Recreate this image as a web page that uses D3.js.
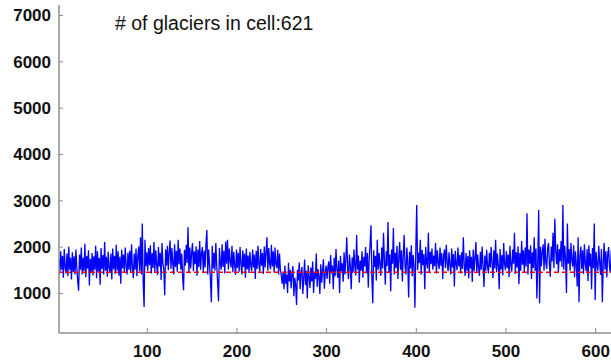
<!DOCTYPE html>
<html><head><meta charset="utf-8">
<script src="https://cdn.jsdelivr.net/npm/d3@7"></script>
<style>body{margin:0;background:#fff}svg{display:block}</style>
</head><body>
<svg id="c" width="611" height="361"></svg>
<script>
const titleText = "# of glaciers in cell:621";
const yTicks = [1000,2000,3000,4000,5000,6000,7000];
const xTicks = [100,200,300,400,500,600];
const threshold = 1450;
const values = [
1180,1720,1420,1900,1500,1800,1330,1950,1560,1420,1850,1360,2000,1500,1760,1290,1880,1450,1790,1400,
1940,1560,1250,1050,1830,1500,1980,1400,1760,1470,2060,1340,1800,1530,1920,1160,1740,1440,1860,1380,
1790,1500,2020,1320,1900,1460,1760,1180,1970,1520,1820,1400,2100,1480,1780,1350,1890,1550,1430,1850,
1290,1960,1510,1800,1410,2040,1480,1900,1370,1780,1200,1930,1530,1830,1450,1980,1580,1400,1870,1500,
1910,1430,2050,1550,1320,1850,1500,1960,1360,1790,2000,1470,2200,1400,2500,1230,700,2150,1580,1880,
1480,1970,1600,2030,1420,1860,1540,2100,1460,1920,1610,1390,1990,1570,1870,1280,2080,1640,1510,950,
1940,1590,2020,1490,1880,2130,1520,1970,1640,1400,2050,1560,1910,1460,2150,1620,1960,1500,1850,1330,
1060,1930,1590,2040,1650,2420,1430,1980,1530,1870,2080,1470,1900,1620,2010,1370,1940,1560,2120,1500,
1860,1990,1450,1910,1550,2050,2360,1400,1940,1610,1280,800,2020,1530,1870,1480,2080,1600,1220,820,
1970,1660,1500,2050,1560,1910,1420,2110,1630,2150,1500,1960,1680,1550,2020,1450,1890,1600,1390,1940,
1540,1870,1460,1990,1620,1400,1920,1560,1850,1330,1960,1510,1810,1430,1890,1590,1470,1940,1550,1830,
1300,1910,1520,2020,1610,1460,1950,1590,1860,1410,2000,1550,1890,2200,1480,1970,1630,1510,2040,1570,
1900,1440,1980,1610,1540,1930,1400,1850,1500,1380,1200,1450,1080,1590,1200,1400,1000,1650,1250,1500,
1100,1420,1580,930,1330,1180,740,1500,1270,1660,1080,1430,1560,980,1320,1720,1170,1480,880,1600,
1350,1110,1550,1250,1680,1000,1440,1300,1850,1130,1510,1360,980,1620,1220,1480,1730,1090,1420,1590,
1300,1560,1680,1200,1820,1420,1590,1080,1760,1360,1950,1500,1330,1700,1000,1800,1470,1640,1240,1880,
1400,1740,2200,1520,1300,1830,1600,1080,1770,1440,1940,1560,1380,2250,1500,1810,1220,1700,1480,1900,
1330,1780,1570,1990,1420,1860,1120,1730,2050,2460,1340,780,1920,1560,1800,1270,2150,1500,1860,1620,
1370,1980,1530,2300,1680,1180,1900,1580,2530,1450,1830,1040,1940,1630,2400,1400,1870,1540,2020,1300,
1750,2100,1500,1920,1250,1800,2250,1570,1400,1980,1660,900,1890,1530,2030,1360,1820,1600,680,1930,
2900,1490,1870,1650,2150,1400,1930,1600,1840,1080,1990,1660,1530,2300,1440,1890,1620,1960,1500,1810,
1580,2080,1420,1920,1660,1520,1980,1590,1860,1300,1800,1940,1540,2040,1640,1470,1880,1610,1400,1960,
1550,1840,1140,1910,1630,1490,1980,1570,1820,1420,1880,1520,2200,1600,1370,1860,1480,1800,1320,1920,
1530,1780,1240,1940,1470,1760,2100,1430,1830,1550,1370,1890,1500,2000,1590,1130,1810,1480,1930,1570,
1420,1870,1550,1990,1640,1320,1920,1530,2150,1450,1850,1600,1080,1950,1500,1820,1380,2080,1620,1490,
1900,1540,1830,1340,2020,1600,1460,1940,1630,2300,1410,1880,1550,2010,1190,1860,1480,2120,1610,1920,
1450,1980,1570,2720,1400,1940,1630,2030,1300,1880,1540,2200,1480,1960,880,1650,2790,780,2000,1580,
1890,2050,1480,2170,1650,1520,1970,2080,1610,1350,2000,1680,2300,1540,2600,1920,1620,2050,1430,1950,
1680,2120,1560,2900,1500,2020,1740,1000,2500,1630,1950,1480,2080,1700,1570,2030,1340,1900,1620,1140,
2200,800,1820,2000,1520,1920,1410,2050,1630,1470,1950,1260,2030,1570,1850,1080,1970,1540,2500,850,
1890,1610,1480,2020,1660,1390,1950,800,1640,2080,1500,1900,1340,1830,1990,1560,1430,1920,1620,1540,
1800
];

const svg = d3.select("#c");
const x = d3.scaleLinear().domain([1, 621]).range([58, 614]);
const y = d3.scaleLinear().domain([136, 7216]).range([333, 5]);

svg.append("defs").append("clipPath").attr("id","clip")
  .append("rect").attr("x",59).attr("y",5).attr("width",560).attr("height",328);

const g = svg.append("g").attr("clip-path","url(#clip)");
const line = d3.line().x((d,i)=>x(i+1)).y(d=>y(d));
g.append("path").datum(values).attr("d", line)
  .attr("fill","none").attr("stroke","#0000ff").attr("stroke-width",1.3);
g.append("line").attr("x1", x(1)).attr("x2", x(621))
  .attr("y1", y(threshold)).attr("y2", y(threshold))
  .attr("stroke","#ff0000").attr("stroke-width",1.5).attr("stroke-dasharray","5,3");

// axes
const axisColor = "#8c8c8c";
const yAxis = d3.axisLeft(y).tickValues(yTicks).tickSize(-4).tickPadding(8).tickFormat(d3.format("d"));
const xAxis = d3.axisBottom(x).tickValues(xTicks).tickSize(-5).tickPadding(12).tickFormat(d3.format("d"));
const ya = svg.append("g").attr("transform","translate(59,0)").call(yAxis);
const xa = svg.append("g").attr("transform","translate(0,333)").call(xAxis);
ya.select(".domain").attr("d","M0,5V333");
xa.select(".domain").attr("d","M59,0H611");
[ya, xa].forEach(a => {
  a.selectAll(".domain").attr("stroke", axisColor).attr("stroke-width",1.5);
  a.selectAll(".tick line").attr("stroke", axisColor);
  a.selectAll("text").attr("font-family","'Liberation Sans', Arial, sans-serif")
    .attr("font-weight","bold").attr("font-size","17px").attr("fill","#111");
});
ya.selectAll("text").attr("dy","0.35em");
xa.selectAll("text").attr("dy","0.71em");

svg.append("text").attr("x",115).attr("y",30)
  .attr("font-family","'Liberation Sans', Arial, sans-serif").attr("font-size","19.5px").attr("fill","#111")
  .text(titleText);
</script>
</body></html>
